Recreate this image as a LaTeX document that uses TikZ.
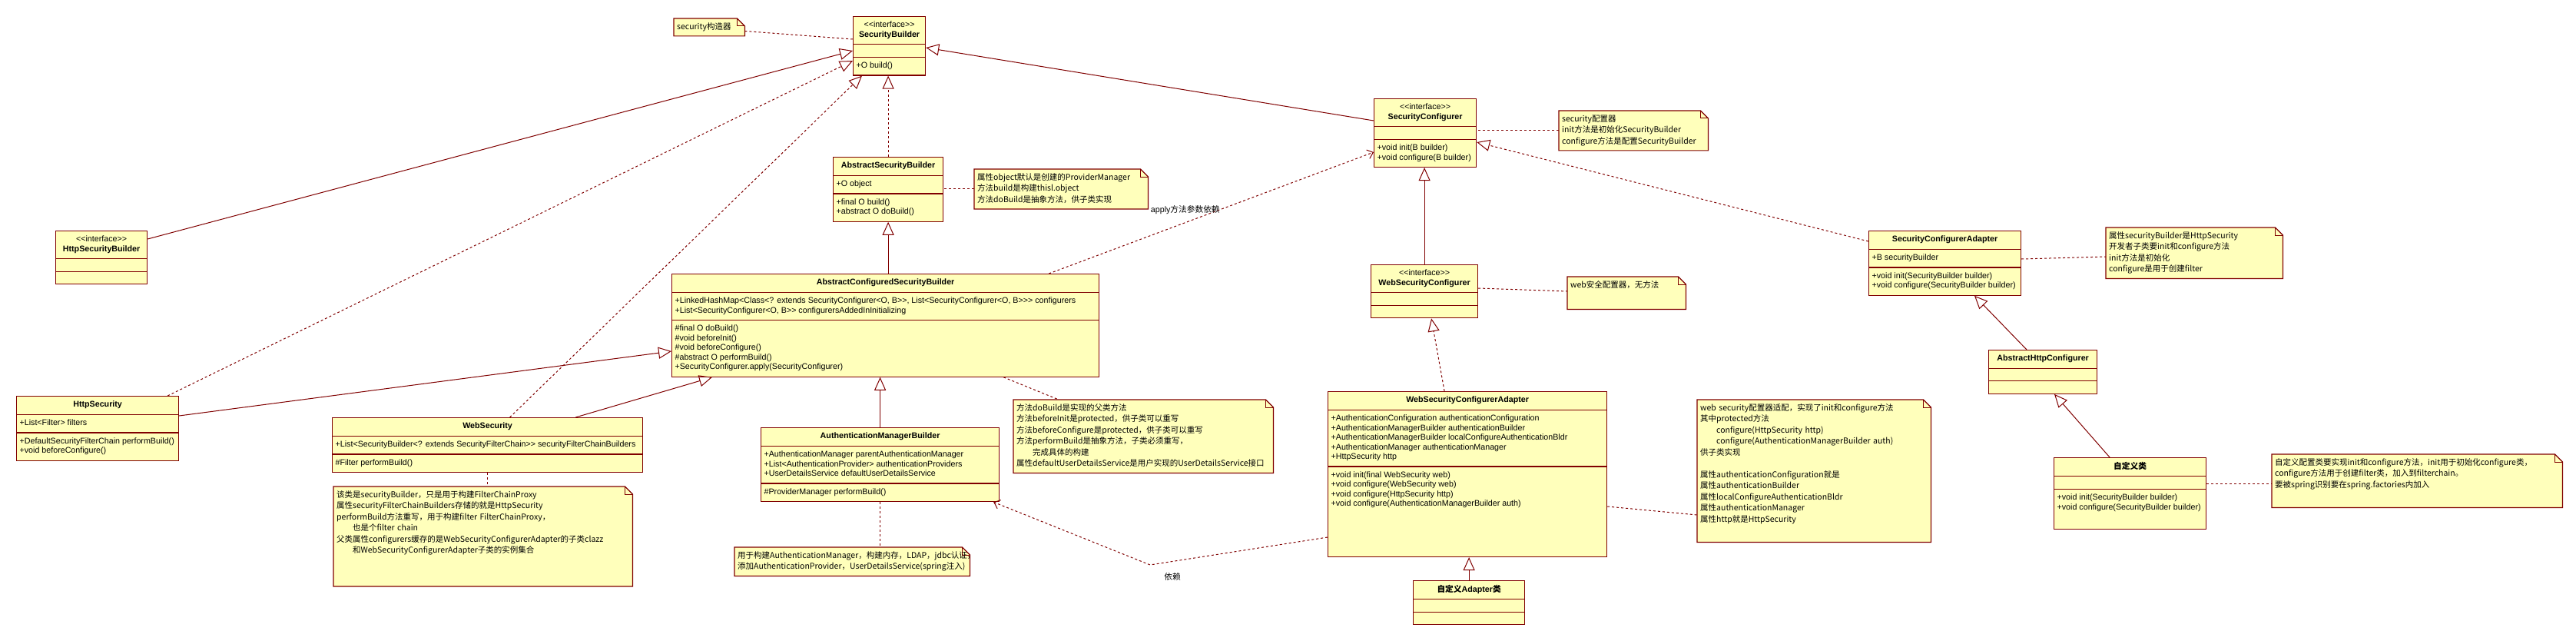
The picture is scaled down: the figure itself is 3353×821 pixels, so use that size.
\documentclass[tikz,border=0pt]{standalone}
\usepackage{fontspec}
\setmainfont{Liberation Sans}
\newfontfamily\clsfont{Liberation Sans}
\newfontfamily\zhfont{Noto Sans CJK SC}
\usetikzlibrary{arrows.meta,shapes.multipart}
\definecolor{umlline}{HTML}{800000}
\definecolor{umlfill}{HTML}{FFFFBB}
\pgfdeclarelayer{bg}
\pgfsetlayers{bg,main}
\newcommand\zh[1]{{\zhfont#1}}
\newcommand\rows[1]{\strut#1\strut}
\newcommand\pad[1]{\rule[-#1]{0pt}{#1}}
\newcommand\iface[1]{\begin{tabular}{@{}c@{}}<{}<interface>{}>\\\textbf{#1}\end{tabular}}
\newcommand\dogear[1]{%
  \begin{pgfonlayer}{bg}
    \filldraw[draw=umlline,fill=umlfill,line width=1.2pt]
      (#1.north west) -- ([xshift=-10pt]#1.north east) -- ([yshift=-10pt]#1.north east)
      -- (#1.south east) -- (#1.south west) -- cycle;
    \draw[umlline,line width=1pt] ([xshift=-10pt]#1.north east) |- ([yshift=-10pt]#1.north east);
  \end{pgfonlayer}}
\tikzset{
  cls/.style={rectangle split,rectangle split parts=3,
    rectangle split part align={center,left,left},
    rectangle split empty part height=0pt,rectangle split empty part depth=0pt,
    draw=umlline,fill=umlfill,line width=1.2pt,minimum width=#1,
    inner xsep=4pt,inner ysep=5pt,anchor=north west,align=left,
    font=\clsfont\fontsize{10.7}{12.5}\selectfont},
  note/.style={anchor=north west,text width=#1,inner xsep=4pt,inner ysep=4pt,
    align=left,font=\zhfont\fontsize{10.5}{14.5}\selectfont},
  gen/.style={umlline,line width=1pt,-{Triangle[open,length=17pt,width=15pt]}},
  real/.style={gen,dashed},
  dep/.style={umlline,line width=1pt,dashed,-{Straight Barb[length=7pt,width=12pt]}},
  link/.style={umlline,line width=1pt,dashed},
  lbl/.style={text=black,font=\clsfont\fontsize{10.7}{12.5}\selectfont,inner sep=1pt}
}
\begin{document}
\begin{tikzpicture}[x=1pt,y=-1pt]
\begin{pgfonlayer}{bg}
\fill[white] (0,0) rectangle (3353,821);
\end{pgfonlayer}
\useasboundingbox (0,0) rectangle (3353,821);

% builders
\node[cls=94] (sb) at (1110,21) {\iface{SecurityBuilder}
  \nodepart{two}\nodepart{three}\rows{+O build()}};
\node[cls=119] (hsb) at (72,300) {\iface{HttpSecurityBuilder}
  \nodepart{two}\nodepart{three}};
\node[cls=143] (asb) at (1084,204) {\textbf{\strut AbstractSecurityBuilder}
  \nodepart{two}\rows{+O object}
  \nodepart{three}\rows{+final O build()\\+abstract O doBuild()}};
\node[cls=556] (acsb) at (874,356) {\textbf{\strut AbstractConfiguredSecurityBuilder}
  \nodepart{two}\rows{+LinkedHashMap<Class<? extends SecurityConfigurer<O, B>{}>, List<SecurityConfigurer<O, B>{}>{}> configurers\\
    +List<SecurityConfigurer<O, B>{}> configurersAddedInInitializing}
  \nodepart{three}\rows{\#final O doBuild()\\\#void beforeInit()\\\#void beforeConfigure()\\
    \#abstract O performBuild()\\+SecurityConfigurer.apply(SecurityConfigurer)}};
\node[cls=211] (hs) at (21,515) {\textbf{\strut HttpSecurity}
  \nodepart{two}\rows{+List<Filter> filters}
  \nodepart{three}\rows{+DefaultSecurityFilterChain performBuild()\\+void beforeConfigure()}};
\node[cls=404] (ws) at (432,543) {\textbf{\strut WebSecurity}
  \nodepart{two}\rows{+List<SecurityBuilder<? extends SecurityFilterChain>{}> securityFilterChainBuilders}
  \nodepart{three}\rows{\#Filter performBuild()}};
\node[cls=310] (amb) at (990,556) {\textbf{\strut AuthenticationManagerBuilder}
  \nodepart{two}\rows{+AuthenticationManager parentAuthenticationManager\\
    +List<AuthenticationProvider> authenticationProviders\\+UserDetailsService defaultUserDetailsService}
  \nodepart{three}\rows{\#ProviderManager performBuild()}};

% configurers
\node[cls=133] (sc) at (1788,128) {\iface{SecurityConfigurer}
  \nodepart{two}\nodepart{three}\rows{+void init(B builder)\\+void configure(B builder)}};
\node[cls=139] (wsc) at (1784,344) {\iface{WebSecurityConfigurer}
  \nodepart{two}\nodepart{three}};
\node[cls=198] (sca) at (2432,300) {\textbf{\strut SecurityConfigurerAdapter}
  \nodepart{two}\rows{+B securityBuilder}
  \nodepart{three}\rows{+void init(SecurityBuilder builder)\\+void configure(SecurityBuilder builder)}};
\node[cls=141] (ahc) at (2588,455) {\textbf{\strut AbstractHttpConfigurer}
  \nodepart{two}\nodepart{three}};
\node[cls=198] (cus) at (2673,595) {{\zhfont\bfseries\strut 自定义类}
  \nodepart{two}
  \nodepart{three}\rows{+void init(SecurityBuilder builder)\\+void configure(SecurityBuilder builder)}\pad{20pt}};
\node[cls=363] (wsca) at (1728,509) {\textbf{\strut WebSecurityConfigurerAdapter}
  \nodepart{two}\rows{+AuthenticationConfiguration authenticationConfiguration\\
    +AuthenticationManagerBuilder authenticationBuilder\\
    +AuthenticationManagerBuilder localConfigureAuthenticationBldr\\
    +AuthenticationManager authenticationManager\\+HttpSecurity http}
  \nodepart{three}\rows{+void init(final WebSecurity web)\\+void configure(WebSecurity web)\\
    +void configure(HttpSecurity http)\\+void configure(AuthenticationManagerBuilder auth)}\pad{60pt}};
\node[cls=145] (cada) at (1839,755) {{\zhfont\bfseries\strut 自定义}\textbf{Adapter}{\zhfont\bfseries 类}
  \nodepart{two}\nodepart{three}};

% notes
\node[note=84] (n_sb) at (877,24) {\rows{security构造器}};
\node[note=218] (n_asb) at (1268,220) {\rows{属性object默认是创建的ProviderManager\\
  方法build是构建thisl.object\\方法doBuild是抽象方法，供子类实现}};
\node[note=186] (n_sc) at (2029,144) {\rows{security配置器\\init方法是初始化SecurityBuilder\\
  configure方法是配置SecurityBuilder}};
\node[note=146] (n_wsc) at (2040,360) {\rows{web安全配置器，无方法}\pad{24pt}};
\node[note=222] (n_sca) at (2741,296) {\rows{属性securityBuilder是HttpSecurity\\
  开发者子类要init和configure方法\\init方法是初始化\\configure是用于创建filter}};
\node[note=370] (n_cus) at (2957,591) {\rows{自定义配置类要实现init和configure方法，init用于初始化configure类，\\
  configure方法用于创建filter类，加入到filterchain。\\要被spring识别要在spring.factories内加入}\pad{22pt}};
\node[note=330] (n_acsb) at (1319,520) {\rows{方法doBuild是实现的父类方法\\
  方法beforeInit是protected，供子类可以重写\\方法beforeConfigure是protected，供子类可以重写\\
  方法performBuild是抽象方法，子类必须重写，\\\hspace*{2em}完成具体的构建\\
  属性defaultUserDetailsService是用户实现的UserDetailsService接口}};
\node[note=296] (n_wsca) at (2209,520) {\rows{web security配置器适配，实现了init和configure方法\\
  其中protected方法\\\hspace*{2em}configure(HttpSecurity http)\\
  \hspace*{2em}configure(AuthenticationManagerBuilder auth)\\供子类实现\\[14.5pt]
  属性authenticationConfiguration就是\\属性authenticationBuilder\\
  属性localConfigureAuthenticationBldr\\属性authenticationManager\\属性http就是HttpSecurity}\pad{22pt}};
\node[note=381] (n_ws) at (434,633) {\rows{该类是securityBuilder，只是用于构建FilterChainProxy\\
  属性securityFilterChainBuilders存储的就是HttpSecurity\\
  performBuild方法重写，用于构建filter FilterChainProxy，\\\hspace*{2em}也是个filter chain\\
  父类属性configurers缓存的是WebSecurityConfigurerAdapter的子类clazz\\
  \hspace*{2em}和WebSecurityConfigurerAdapter子类的实例集合}\pad{39pt}};
\node[note=298] (n_amb) at (956,712) {\rows{用于构建AuthenticationManager，构建内存，LDAP，jdbc认证，\\
  添加AuthenticationProvider，UserDetailsService(spring注入)}};
\foreach \n in {n_sb,n_asb,n_sc,n_wsc,n_sca,n_cus,n_acsb,n_wsca,n_ws,n_amb}
  \dogear{\n};

% inheritance
\draw[gen] ([yshift=-11pt]hsb.north east) -- ([yshift=-45pt]sb.north west);
\draw[real] ([xshift=-15pt]hs.north east) -- ([yshift=-58pt]sb.north west);
\draw[real] ([xshift=29pt]ws.north) -- ([xshift=12pt]sb.south west);
\draw[real] (asb.north) -- (asb.north |- sb.south);
\draw[gen] ([yshift=-29pt]sc.north west) -- ([yshift=-41pt]sb.north east);
\draw[gen] (asb.south |- acsb.north) -- (asb.south);
\draw[gen] ([yshift=-26pt]hs.north east) -- ([yshift=-101pt]acsb.north west);
\draw[gen] ([xshift=-88pt]ws.north east) -- ([xshift=53pt]acsb.south west);
\draw[gen] (amb.north) -- (amb.north |- acsb.south);
\draw[gen] (wsc.north) -- (wsc.north |- sc.south);
\draw[real] ([xshift=-30pt]wsca.north) -- ([xshift=9pt]wsc.south);
\draw[real] ([yshift=-14pt]sca.north west) -- ([yshift=-57pt]sc.north east);
\draw[gen] ([xshift=50pt]ahc.north west) -- ([xshift=138pt]sca.south west);
\draw[gen] ([xshift=73pt]cus.north west) -- ([xshift=86pt]ahc.south west);
\draw[gen] (cada.north) -- (cada.north |- wsca.south);

% dependencies
\draw[dep] ([xshift=-66pt]acsb.north east) -- node[lbl,pos=0.42,above=9pt] (applylbl) {apply\zh{方法参数依赖}}
  ([yshift=-70pt]sc.north west);
\coordinate (bend) at (1497,735);
\draw[dep] ([yshift=-190pt]wsca.north west) -- (bend) -- ([xshift=-8pt]amb.south east);
\node[lbl] (deplbl) at (1526,750) {\zh{依赖}};

% note links
\draw[link] ([yshift=-5pt]n_sb.east) -- ([yshift=-30pt]sb.north west);
\draw[link] (n_asb.west) -- (n_asb.west -| asb.east);
\draw[link] (n_sc.west) -- (n_sc.west -| sc.east);
\draw[link] ([yshift=-31pt]wsc.north east) -- ([yshift=-19pt]n_wsc.north west);
\draw[link] ([yshift=-37pt]sca.north east) -- ([yshift=-38pt]n_sca.north west);
\draw[link] ([yshift=-34pt]cus.north east) -- ([yshift=-38pt]n_cus.north west);
\draw[link] (ws.south) -- (ws.south |- n_ws.north);
\draw[link] (amb.south) -- (amb.south |- n_amb.north);
\draw[link] ([xshift=-125pt]acsb.south east) -- ([xshift=59pt]n_acsb.north west);
\draw[link] ([yshift=-150pt]wsca.north east) -- ([yshift=-150pt]n_wsca.north west);
\end{tikzpicture}
\end{document}
